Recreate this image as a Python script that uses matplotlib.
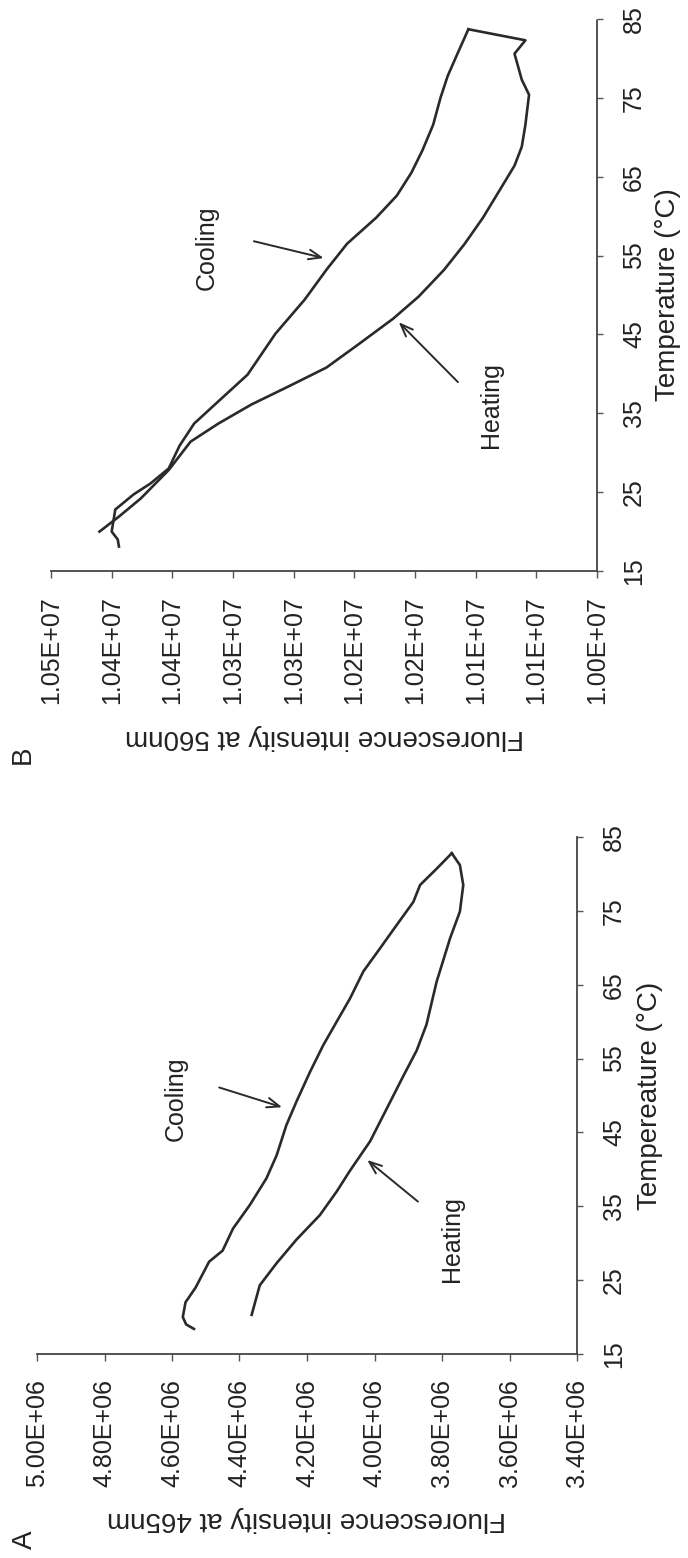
import matplotlib
matplotlib.use('Agg')
import matplotlib.pyplot as plt

# ---- panel A data (465nm), intensity in units of 1E+06 ----
a_heat_temp = [20.3, 24.3, 27.3, 30.5, 33.8, 37.0, 39.8, 43.8, 48.2, 52.6, 56.1, 59.6, 65.4, 71.3, 74.9, 78.5, 81.2, 82.8]
a_heat_int = [4.364, 4.340, 4.290, 4.231, 4.162, 4.112, 4.073, 4.013, 3.964, 3.915, 3.875, 3.846, 3.816, 3.776, 3.747, 3.737, 3.747, 3.771]
a_cool_temp = [82.8, 80.7, 78.5, 76.2, 73.1, 69.9, 66.8, 63.1, 60.0, 56.8, 53.2, 49.2, 46.0, 41.9, 38.8, 35.2, 32.0, 29.0, 27.5, 24.0, 22.0, 20.0, 19.0, 18.4]
a_cool_int = [3.771, 3.816, 3.865, 3.885, 3.934, 3.984, 4.033, 4.073, 4.112, 4.152, 4.191, 4.231, 4.261, 4.290, 4.320, 4.369, 4.419, 4.450, 4.490, 4.530, 4.560, 4.568, 4.558, 4.535]

# ---- panel B data (560nm), intensity in units of 1E+07 ----
b_heat_temp = [20.0, 21.9, 24.2, 27.8, 31.4, 33.7, 36.1, 38.5, 40.8, 43.7, 47.0, 49.8, 53.2, 56.5, 59.8, 63.6, 66.4, 68.8, 71.6, 75.4, 77.3, 80.6, 82.3, 83.7]
b_heat_int = [1.0410, 1.0394, 1.0376, 1.0353, 1.0335, 1.0312, 1.0285, 1.0253, 1.0223, 1.0197, 1.0168, 1.0147, 1.0126, 1.0109, 1.0094, 1.0079, 1.0068, 1.0062, 1.0059, 1.0056, 1.0062, 1.0068, 1.0059, 1.0106]
b_cool_temp = [83.7, 80.6, 77.8, 75.0, 71.6, 68.3, 65.5, 62.6, 59.8, 56.5, 53.2, 49.4, 45.1, 39.9, 36.1, 33.7, 30.9, 28.0, 26.1, 24.7, 22.8, 20.0, 19.0, 18.1]
b_cool_int = [1.0106, 1.0115, 1.0123, 1.0129, 1.0135, 1.0144, 1.0153, 1.0165, 1.0182, 1.0206, 1.0223, 1.0241, 1.0265, 1.0288, 1.0315, 1.0332, 1.0344, 1.0353, 1.0368, 1.0382, 1.0397, 1.0400, 1.0395, 1.0394]

temp_ticks = [15, 25, 35, 45, 55, 65, 75, 85]
a_int_ticks = [3.40, 3.60, 3.80, 4.00, 4.20, 4.40, 4.60, 4.80, 5.00]
a_int_labels = ['3.40E+06', '3.60E+06', '3.80E+06', '4.00E+06', '4.20E+06',
                '4.40E+06', '4.60E+06', '4.80E+06', '5.00E+06']
b_int_ticks = [1.000, 1.005, 1.010, 1.015, 1.020, 1.025, 1.030, 1.035, 1.040, 1.045]
b_int_labels = ['1.00E+07', '1.01E+07', '1.01E+07', '1.02E+07', '1.02E+07',
                '1.03E+07', '1.03E+07', '1.04E+07', '1.04E+07', '1.05E+07']

plt.rcParams['font.family'] = ['Liberation Sans', 'DejaVu Sans']

fig = plt.figure(figsize=(6.88, 15.58), dpi=100)
W, H = 688.0, 1558.0

line_col = '#2a2a2a'


def setup(ax, xlim, xticks, xlabels, xlabel, ylabel, xl_y, yl_x):
    # rotated chart: intensity runs along the bottom (high on the left),
    # temperature runs up the right side
    ax.set_xlim(xlim)
    ax.set_ylim(15, 85)
    for s in ['top', 'left']:
        ax.spines[s].set_visible(False)
    for s in ['bottom', 'right']:
        ax.spines[s].set_linestyle((0, (1, 1)))
        ax.spines[s].set_linewidth(1.3)
        ax.spines[s].set_color('#444444')
    ax.yaxis.tick_right()
    ax.set_xticks(xticks)
    ax.set_xticklabels(xlabels, rotation=90, fontsize=18, color='#222222')
    ax.set_yticks(temp_ticks)
    ax.set_yticklabels([str(t) for t in temp_ticks], rotation=90, fontsize=18,
                       color='#222222', va='center')
    ax.tick_params(axis='x', direction='out', length=5, width=1, colors='#555555', pad=13)
    ax.tick_params(axis='y', direction='out', length=4, width=1, colors='#555555', pad=14)
    for lab in ax.get_xticklabels() + ax.get_yticklabels():
        lab.set_color('#222222')
    ax.set_xlabel(xlabel, rotation=180, fontsize=20, color='#222222', va='center', ha='center')
    ax.xaxis.set_label_coords(0.5, xl_y)
    ax.yaxis.set_label_position('right')
    ax.set_ylabel(ylabel, rotation=90, fontsize=20, color='#222222', va='center', ha='center')
    ax.yaxis.set_label_coords(yl_x, 0.5)


def arrow(ax, head, tail):
    ax.annotate('', xy=head, xytext=tail,
                arrowprops=dict(arrowstyle='->,head_length=0.9,head_width=0.35',
                                lw=1.4, color=line_col))


# panel B (top)
axB = fig.add_axes([51 / W, 1 - 571 / H, 546 / W, 552 / H])
setup(axB, (1.045, 1.000), b_int_ticks, b_int_labels,
      'Fluorescence intensity at 560nm', 'Temperature (°C)', -0.30, 1.13)
axB.plot(b_heat_int, b_heat_temp, color=line_col, lw=1.9)
axB.plot(b_cool_int, b_cool_temp, color=line_col, lw=1.9)
axB.text(1.0322, 56.0, 'Cooling', rotation=90, fontsize=18, ha='center', va='center', color='#222222')
axB.text(1.0087, 36.1, 'Heating', rotation=90, fontsize=18, ha='center', va='center', color='#222222')
arrow(axB, (1.0223, 54.6), (1.0285, 56.9))
arrow(axB, (1.0165, 46.8), (1.0113, 38.7))

# panel A (bottom)
axA = fig.add_axes([37 / W, 1 - 1354 / H, 540 / W, 517 / H])
setup(axA, (5.00, 3.40), a_int_ticks, a_int_labels,
      'Fluorescence intensity at 465nm', 'Tempereature (°C)', -0.32, 1.135)
axA.plot(a_heat_int, a_heat_temp, color=line_col, lw=1.9)
axA.plot(a_cool_int, a_cool_temp, color=line_col, lw=1.9)
axA.text(4.59, 49.5, 'Cooling', rotation=90, fontsize=18, ha='center', va='center', color='#222222')
axA.text(3.77, 30.5, 'Heating', rotation=90, fontsize=18, ha='center', va='center', color='#222222')
arrow(axA, (4.266, 48.3), (4.468, 51.2))
arrow(axA, (4.028, 41.5), (3.865, 35.4))

fig.text(25 / W, 1 - 1540 / H, 'A', rotation=90, fontsize=20, ha='center', va='center', color='#222222')
fig.text(23 / W, 1 - 755 / H, 'B', rotation=90, fontsize=20, ha='center', va='center', color='#222222')

fig.savefig('out.png', dpi=100)
